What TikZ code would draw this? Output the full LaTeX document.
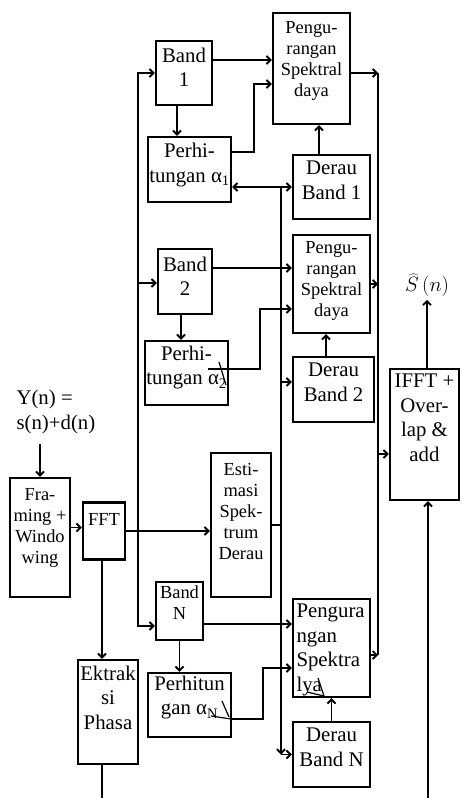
\documentclass[tikz,border=0pt]{standalone}
\usepackage{fontspec}
\setmainfont{Liberation Serif}
\usetikzlibrary{arrows.meta, positioning, calc}

\newcommand{\besar}{\fontsize{20.8}{24.5}\selectfont}
\newcommand{\kecil}{\fontsize{18.4}{21}\selectfont}
% box text, top aligned: [gap]{width}{height}{text}
\newcommand{\isi}[4][6pt]{\parbox[c][#3][t]{#2}{\centering\vspace*{#1}#4}}
\newcommand{\isikiri}[4][6pt]{\parbox[c][#3][t]{#2}{\raggedright\leftskip=3.5pt\relax\vspace*{#1}#4}}

\begin{document}
\begin{tikzpicture}[
    x=1pt, y=-1pt,
    >={Straight Barb[length=4pt, width=8pt]},
    blok/.style={draw, line width=2.4pt, inner sep=0pt, font=\besar},
    blokkecil/.style={blok, font=\kecil},
    garis/.style={line width=1.9pt},
    arw/.style={->, garis},
    coret/.style={line width=1.2pt},
]
\useasboundingbox (0,0) rectangle (461,798);

% === Input side ===
\node[font=\besar, align=left, anchor=west] (masuk) at (13,412) {Y(n) =\\s(n)+d(n)};
\node[blokkecil] (framing) at (40,537.5) {\isi[10pt]{60pt}{119pt}{Fra-\\ming~+\\Windo\\wing}};
\node[blokkecil] (fft) at (104,531) {\isi[11pt]{42pt}{57pt}{FFT}};
\node[blok] (ektraksi) at (108,712) {\isi{60pt}{104pt}{Ektrak\\si\\Phasa}};
\node[blokkecil] (estimasi) at (241,525) {\isi[10pt]{60pt}{144pt}{Esti-\\masi\\Spek-\\trum\\Derau}};

% === Band 1 ===
\node[blok] (band1) at (184,73) {\isi[7pt]{56pt}{64pt}{Band\\1}};
\node[blokkecil] (peng1) at (311.5,68.5) {\isi[8pt]{77pt}{111pt}{Pengu-\\rangan\\Spektral\\daya}};
\node[blok] (perh1) at (189.5,169.5) {\isi[6.5pt]{83pt}{65pt}{Perhi-\\tungan~α\textsubscript{1}}};
\node[blok] (derau1) at (331.5,187) {\isi{77pt}{64pt}{Derau\\Band~1}};

% === Band 2 ===
\node[blok] (band2) at (185,281.5) {\isi[8pt]{54pt}{65pt}{Band\\2}};
\node[blokkecil] (peng2) at (331.5,284) {\isi{77pt}{98pt}{Pengu-\\rangan\\Spektral\\daya}};
\node[blok] (perh2) at (186.5,373) {\isi[5pt]{83pt}{64pt}{Perhi-\\tungan~α\textsubscript{2}}};
\node[blok] (derau2) at (333.5,389.5) {\isi{81pt}{65pt}{Derau\\Band~2}};

% === Band N ===
\node[blokkecil] (bandN) at (179.5,611) {\isi[3.5pt]{47pt}{58pt}{Band\\N}};
\node[blok] (pengN) at (331.5,648) {\isikiri[5pt]{77pt}{98pt}{Pengura\\ngan\\Spektra\\lya}};
\node[blok] (perhN) at (189.5,705) {\isi[3pt]{83pt}{64pt}{Perhitun\\gan~α\textsubscript{N}}};
\node[blok] (derauN) at (331.5,754.5) {\isi{77pt}{65pt}{Derau\\Band~N}};

% === Output side ===
\node[blok] (ifft) at (424.5,434.5) {\isi[5pt]{69pt}{131pt}{IFFT~+\\Over-\\lap~\&\\add}};
\node[font=\besar] (keluar) at (427,285) {$\widehat{S}\,(n)$};

% bus lines
\coordinate (busL) at (138,531);
\coordinate (busR) at (281,525);
\coordinate (busK) at (378,454);

% Input arrows
\draw[arw] ([yshift=-7pt]masuk.south -| framing.north) -- (framing.north);
\draw[arw] ([yshift=10pt]framing.east) -- ([yshift=10pt]framing.east -| fft.west);
\draw[arw] (fft.east) -- (fft.east -| estimasi.west);
\draw[arw] ([xshift=-2pt]fft.south) -- ([xshift=-2pt]fft.south |- ektraksi.north);
\draw[garis] ([xshift=-6pt]ektraksi.south) -- ++(0,36);

% FFT to the bands
\draw[arw] (busL) |- (band1.west);
\draw[arw] (busL) |- ([yshift=-1.5pt]band2.west);
\draw[arw] (busL) |- ([yshift=-15pt]bandN.west);

% Noise estimate to the bands
\draw[garis] (estimasi.east) -- (busR);
\draw[arw] (busR) |- (derau1.west);
\draw[arw] (busR |- derau1.west) -- (perh1.east |- derau1.west);
\draw[arw] (busR) |- ([yshift=7.5pt]derau2.west);
\draw[arw] (busR) -- (busR |- derauN.west);
\draw[arw] (busR |- derauN.west) -- (derauN.west);

% Band 1 arrows
\draw[arw] ([yshift=13pt]band1.east) -- ([yshift=13pt]band1.east -| peng1.west);
\draw[arw] ([xshift=-7pt]band1.south) -- ([xshift=-7pt]band1.south |- perh1.north);
\draw[arw] ([yshift=17.5pt]perh1.east) -- ++(22,0) |- ([yshift=-15.5pt]peng1.west);
\draw[arw] ([xshift=-12.5pt]derau1.north) -- ([xshift=-12.5pt]derau1.north |- peng1.south);

% Band 2 arrows
\draw[arw] ([yshift=13.5pt]band2.east) -- ([yshift=13.5pt]band2.east -| peng2.west);
\draw[arw] ([xshift=-4pt]band2.south) -- ([xshift=-4pt]band2.south |- perh2.north);
\draw[arw] ([yshift=4pt]perh2.east) -- ++(31,0) |- ([yshift=-25pt]peng2.west);
\draw[arw] ([xshift=-7.5pt]derau2.north) -- ([xshift=-7.5pt]derau2.north |- peng2.south);
\draw[coret] (219,362) -- (226,385);
\draw[coret] (208,369) -- (229,369);

% Band N arrows
\draw[arw] ([yshift=-13pt]bandN.east) -- ([yshift=-13pt]bandN.east -| pengN.west);
\draw[arw] (bandN.south) -- (bandN.south |- perhN.north);
\draw[arw] ([yshift=-14pt]perhN.east) -- ++(31,0) |- ([yshift=-20pt]pengN.west);
\draw[arw] (derauN.north) -- (derauN.north |- pengN.south);
\draw[coret] (222,701) -- (229,717);
\draw[coret] (211,716) -- (231,719);
\draw[coret] (318,678) -- (324,696);
\draw[coret] (307,692) -- (324,696);

% Subtraction outputs to IFFT
\draw[arw] ([yshift=-4.5pt]peng1.east) -- ([yshift=-4.5pt]peng1.east -| busK);
\draw[arw] (peng2.east) -- (peng2.east -| busK);
\draw[arw] ([yshift=-7pt]pengN.east) -- ([yshift=-7pt]pengN.east -| busK);
\draw[garis] ([yshift=-4.5pt]peng1.east -| busK) -- ([yshift=-7pt]pengN.east -| busK);
\draw[arw] (busK) -- (busK -| ifft.west);
\draw[arw] ([xshift=3.5pt, yshift=-300pt]ifft.south) -- ([xshift=3.5pt]ifft.south);
\draw[arw] ([xshift=2.5pt]ifft.north) -- ([xshift=2.5pt]ifft.north |- keluar.south);

\end{tikzpicture}
\end{document}
